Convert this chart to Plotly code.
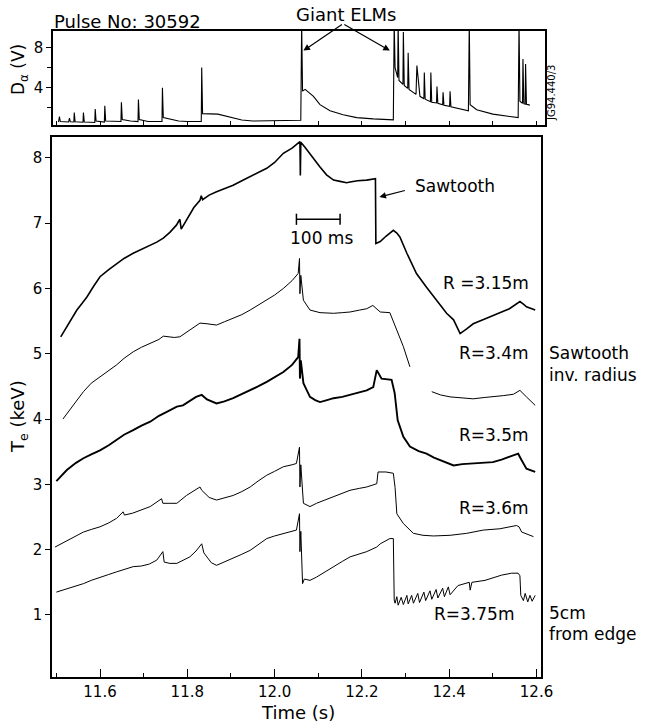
import plotly.graph_objects as go

# ---------------- data ----------------
t_315 = [11.510, 11.530, 11.547, 11.560, 11.570, 11.585, 11.600, 11.620, 11.638, 11.655, 11.676, 11.695,
         11.715, 11.730, 11.745, 11.760, 11.775, 11.783, 11.786, 11.800, 11.815, 11.829, 11.832, 11.835,
         11.850, 11.867, 11.885, 11.905, 11.925, 11.944, 11.962, 11.982, 12.000, 12.020, 12.040, 12.055,
         12.058, 12.059, 12.060, 12.070, 12.081, 12.093, 12.104, 12.119, 12.135, 12.150, 12.165, 12.173,
         12.190, 12.211, 12.225, 12.231, 12.232, 12.242, 12.255, 12.265, 12.272, 12.280, 12.287, 12.303,
         12.325, 12.348, 12.371, 12.394, 12.410, 12.425, 12.440, 12.455, 12.480, 12.500, 12.520, 12.538,
         12.562, 12.570, 12.577, 12.597]
te_315 = [5.26, 5.48, 5.67, 5.78, 5.87, 6.03, 6.18, 6.29, 6.38, 6.46, 6.54, 6.60,
          6.66, 6.71, 6.77, 6.86, 6.97, 7.06, 6.91, 7.08, 7.24, 7.35, 7.42, 7.36,
          7.43, 7.48, 7.53, 7.58, 7.65, 7.71, 7.77, 7.84, 7.93, 8.07, 8.15, 8.23,
          8.25, 7.73, 8.24, 8.16, 8.06, 7.96, 7.86, 7.74, 7.66, 7.64, 7.62, 7.63,
          7.65, 7.66, 7.67, 7.68, 6.69, 6.72, 6.80, 6.86, 6.89, 6.85, 6.79, 6.54,
          6.23, 6.02, 5.82, 5.62, 5.52, 5.31, 5.38, 5.46, 5.53, 5.59, 5.64, 5.69,
          5.80, 5.76, 5.72, 5.67]

t_34 = [11.515, 11.540, 11.562, 11.580, 11.600, 11.620, 11.638, 11.655, 11.676, 11.695, 11.715, 11.735,
        11.745, 11.753, 11.770, 11.783, 11.800, 11.814, 11.829, 11.845, 11.867, 11.885, 11.905, 11.925,
        11.944, 11.962, 11.982, 12.000, 12.020, 12.040, 12.054, 12.057, 12.058, 12.060, 12.066, 12.081,
        12.104, 12.135, 12.155, 12.173, 12.195, 12.211, 12.225, 12.232, 12.242, 12.264, 12.280, 12.295,
        12.310, 12.335, 12.360, 12.380, 12.402, 12.430, 12.455, 12.480, 12.500, 12.525, 12.547, 12.562,
        12.577, 12.597]
te_34 = [4.00, 4.22, 4.42, 4.55, 4.65, 4.74, 4.83, 4.93, 5.03, 5.10, 5.16, 5.22,
         5.27, 5.26, 5.25, 5.26, 5.34, 5.41, 5.47, 5.46, 5.44, 5.49, 5.54, 5.60,
         5.67, 5.74, 5.82, 5.90, 6.00, 6.12, 6.23, 6.46, 5.92, 6.20, 5.82, 5.67,
         5.63, 5.62, 5.63, 5.64, 5.67, 5.69, 5.74, 5.70, 5.64, 5.63, 5.36, 5.11,
         4.80, None, 4.42, 4.37, 4.34, 4.32, 4.31, 4.33, 4.34, 4.36, 4.38, 4.44,
         4.34, 4.21]

t_35 = [11.500, 11.524, 11.545, 11.562, 11.580, 11.600, 11.620, 11.638, 11.655, 11.676, 11.695, 11.715,
        11.735, 11.753, 11.776, 11.790, 11.805, 11.820, 11.833, 11.845, 11.867, 11.885, 11.905, 11.925,
        11.944, 11.962, 11.982, 12.000, 12.020, 12.040, 12.054, 12.057, 12.058, 12.060, 12.066, 12.073,
        12.081, 12.093, 12.104, 12.120, 12.135, 12.155, 12.173, 12.195, 12.211, 12.226, 12.234, 12.245,
        12.268, 12.275, 12.282, 12.295, 12.310, 12.330, 12.348, 12.365, 12.379, 12.395, 12.410, 12.430,
        12.455, 12.480, 12.500, 12.520, 12.539, 12.558, 12.565, 12.577, 12.597]
te_35 = [3.05, 3.22, 3.33, 3.40, 3.46, 3.52, 3.60, 3.68, 3.76, 3.83, 3.90, 3.96,
         4.05, 4.11, 4.19, 4.21, 4.28, 4.34, 4.37, 4.30, 4.24, 4.27, 4.32, 4.38,
         4.44, 4.50, 4.57, 4.64, 4.72, 4.83, 4.95, 5.23, 4.62, 4.90, 4.55, 4.45,
         4.34, 4.29, 4.26, 4.29, 4.32, 4.34, 4.37, 4.41, 4.44, 4.49, 4.75, 4.62,
         4.60, 4.40, 3.98, 3.73, 3.58, 3.51, 3.47, 3.41, 3.37, 3.33, 3.29, 3.31,
         3.32, 3.33, 3.34, 3.38, 3.42, 3.47, 3.38, 3.24, 3.19]

t_36 = [11.497, 11.524, 11.545, 11.562, 11.580, 11.600, 11.620, 11.638, 11.653, 11.656, 11.675, 11.692,
        11.715, 11.741, 11.744, 11.760, 11.776, 11.798, 11.815, 11.829, 11.833, 11.850, 11.867, 11.885,
        11.905, 11.925, 11.944, 11.962, 11.982, 12.000, 12.020, 12.040, 12.050, 12.057, 12.058, 12.060,
        12.066, 12.081, 12.096, 12.115, 12.135, 12.155, 12.173, 12.195, 12.211, 12.234, 12.237, 12.255,
        12.272, 12.276, 12.280, 12.295, 12.318, 12.340, 12.364, 12.402, 12.440, 12.478, 12.516, 12.554,
        12.560, 12.566, 12.580, 12.593]
te_36 = [2.04, 2.14, 2.22, 2.27, 2.31, 2.35, 2.41, 2.48, 2.58, 2.53, 2.56, 2.60,
         2.66, 2.78, 2.71, 2.71, 2.71, 2.83, 2.90, 2.96, 2.91, 2.80, 2.76, 2.79,
         2.83, 2.89, 2.96, 3.05, 3.14, 3.20, 3.27, 3.30, 3.32, 3.57, 2.96, 3.30,
         2.71, 2.66, 2.71, 2.76, 2.81, 2.86, 2.91, 2.94, 2.96, 3.01, 3.19, 3.19,
         3.17, 2.95, 2.55, 2.40, 2.25, 2.22, 2.21, 2.22, 2.25, 2.30, 2.32, 2.37,
         2.35, 2.27, 2.23, 2.20]

t_375 = [11.500, 11.520, 11.539, 11.562, 11.580, 11.600, 11.620, 11.638, 11.655, 11.676, 11.695, 11.713,
         11.730, 11.744, 11.747, 11.760, 11.776, 11.790, 11.806, 11.820, 11.833, 11.838, 11.844, 11.855,
         11.867, 11.885, 11.905, 11.925, 11.944, 11.962, 11.982, 12.000, 12.020, 12.040, 12.050, 12.057,
         12.058, 12.060, 12.064, 12.068, 12.081, 12.096, 12.115, 12.135, 12.155, 12.173, 12.195, 12.211,
         12.234, 12.242, 12.264, 12.272, 12.274, 12.276, 12.280, 12.283, 12.290, 12.295, 12.303, 12.306,
         12.314, 12.318, 12.328, 12.332, 12.342, 12.346, 12.356, 12.360, 12.370, 12.374, 12.385, 12.389,
         12.398, 12.402, 12.420, 12.436, 12.446, 12.448, 12.452, 12.482, 12.520, 12.543, 12.558, 12.562,
         12.564, 12.570, 12.574, 12.580, 12.585, 12.590, 12.597]
te_375 = [1.35, 1.39, 1.43, 1.48, 1.53, 1.58, 1.62, 1.66, 1.70, 1.74, 1.75, 1.78,
          1.84, 1.97, 1.81, 1.79, 1.79, 1.84, 1.89, 1.98, 2.09, 1.95, 1.89, 1.80,
          1.76, 1.81, 1.87, 1.93, 1.99, 2.08, 2.17, 2.21, 2.25, 2.28, 2.30, 2.55,
          1.97, 2.28, 1.48, 1.55, 1.53, 1.58, 1.66, 1.74, 1.82, 1.89, 1.94, 1.97,
          2.04, 2.09, 2.17, 2.17, 1.23, 1.18, 1.28, 1.15, 1.27, 1.16, 1.30, 1.17,
          1.30, 1.18, 1.33, 1.19, 1.35, 1.22, 1.37, 1.24, 1.39, 1.26, 1.41, 1.28,
          1.43, 1.31, 1.45, 1.48, 1.50, 1.38, 1.50, 1.53, 1.61, 1.64, 1.64, 1.60,
          1.30, 1.22, 1.33, 1.20, 1.30, 1.21, 1.30]

# D-alpha signal (V); 10.5 = off-scale spikes
t_da = [11.505, 11.507, 11.509, 11.528, 11.530, 11.532, 11.540, 11.541, 11.543, 11.561, 11.562, 11.564,
        11.588, 11.589, 11.591, 11.610, 11.611, 11.613, 11.648, 11.649, 11.651, 11.670, 11.687, 11.688,
        11.690, 11.710, 11.742, 11.743, 11.745, 11.760, 11.780, 11.800, 11.832, 11.833, 11.835, 11.870,
        11.885, 11.905, 11.925, 11.950, 12.000, 12.060, 12.062, 12.064, 12.070, 12.080, 12.089, 12.104,
        12.127, 12.157, 12.188, 12.226, 12.272, 12.274, 12.276, 12.282, 12.283, 12.285, 12.294, 12.295,
        12.297, 12.305, 12.306, 12.308, 12.318, 12.324, 12.326, 12.333, 12.342, 12.343, 12.345, 12.357,
        12.358, 12.360, 12.371, 12.372, 12.374, 12.385, 12.386, 12.388, 12.401, 12.402, 12.404, 12.425,
        12.444, 12.446, 12.448, 12.463, 12.500, 12.539, 12.558, 12.560, 12.562, 12.568, 12.569, 12.571,
        12.574, 12.575, 12.577, 12.581, 12.585]
da = [0.50, 1.06, 0.55, 0.50, 0.90, 0.52, 0.50, 1.47, 0.52, 0.48, 1.47, 0.50,
      0.45, 1.82, 0.60, 0.50, 2.15, 0.60, 0.55, 2.49, 0.75, 0.60, 0.55, 2.77,
      0.75, 0.55, 0.55, 3.97, 0.95, 0.80, 0.60, 0.55, 0.55, 6.02, 1.35, 1.30,
      1.15, 0.90, 0.70, 0.60, 0.62, 0.68, 10.5, 3.62, 3.80, 3.40, 3.10, 2.26,
      1.64, 1.23, 0.95, 0.82, 0.72, 10.5, 6.00, 5.00, 10.5, 4.70, 4.30, 9.60,
      4.20, 3.90, 7.50, 3.80, 3.50, 3.30, 6.20, 3.10, 2.85, 5.50, 2.80, 2.55,
      5.50, 2.50, 2.43, 4.10, 2.40, 2.25, 3.50, 2.20, 2.08, 3.60, 2.05, 1.85,
      1.64, 10.5, 2.26, 1.74, 1.30, 1.06, 0.95, 10.5, 2.60, 2.40, 6.87, 2.35,
      2.30, 6.36, 2.30, 2.26, 2.20]

scalebar_t = [12.05, 12.15]
scalebar_te = [7.06, 7.06]

x_ticks = [11.6, 11.8, 12.0, 12.2, 12.4, 12.6]

# ---------------- figure ----------------
W, H = 645, 724
FONT = "DejaVu Sans"


def px(x):
    return x / W


def py(y):
    return 1 - y / H


fig = go.Figure()

line_specs = [
    (t_315, te_315, 1.6),
    (t_34, te_34, 1.0),
    (t_35, te_35, 1.9),
    (t_36, te_36, 1.0),
    (t_375, te_375, 1.0),
]
for tt, vv, w in line_specs:
    fig.add_trace(go.Scatter(x=tt, y=vv, mode="lines", line=dict(color="black", width=w),
                             connectgaps=False, showlegend=False, xaxis="x", yaxis="y"))

fig.add_trace(go.Scatter(x=t_da, y=da, mode="lines", line=dict(color="black", width=1.1),
                         showlegend=False, xaxis="x2", yaxis="y2"))

# 100 ms scale bar
fig.add_trace(go.Scatter(x=scalebar_t, y=scalebar_te, mode="lines+markers",
                         line=dict(color="black", width=1.3),
                         marker=dict(symbol="line-ns", size=8, line=dict(color="black", width=1.5)),
                         showlegend=False, xaxis="x", yaxis="y"))

axis_common = dict(showline=True, linecolor="black", linewidth=1.5, mirror=True,
                   showgrid=False, zeroline=False, automargin=False,
                   tickcolor="black", tickwidth=1.3,
                   tickfont=dict(family=FONT, size=15, color="black"))

fig.update_layout(
    width=W, height=H,
    margin=dict(l=0, r=0, t=0, b=0),
    paper_bgcolor="white", plot_bgcolor="white",
    font=dict(family=FONT, color="black"),
    xaxis=dict(domain=[px(52), px(541)], range=[11.49, 12.6103], anchor="y",
               tickvals=x_ticks, ticktext=[f"{v:.1f}" for v in x_ticks],
               ticks="inside", ticklen=8,
               minor=dict(ticks="inside", ticklen=4, dtick=0.1, tick0=11.5,
                          tickcolor="black", tickwidth=1.2),
               **axis_common),
    yaxis=dict(domain=[py(677), py(137)], range=[0.05, 8.32], anchor="x",
               dtick=1, tick0=0, ticks="outside", ticklen=5, **axis_common),
    xaxis2=dict(domain=[px(53), px(545)], range=[11.4923, 12.6195], anchor="y2",
                showticklabels=False, dtick=0.1, tick0=11.5, ticks="inside", ticklen=4,
                **axis_common),
    yaxis2=dict(domain=[py(125), py(31)], range=[0.2, 9.7], anchor="x2",
                dtick=4, tick0=0, ticks="outside", ticklen=5,
                minor=dict(ticks="outside", ticklen=4, dtick=2, tick0=0,
                           tickcolor="black", tickwidth=1.2),
                **axis_common),
)

ann = []


def label(text, x, y, size=17, xanchor="center", yanchor="middle", angle=0):
    ann.append(dict(text=text, x=px(x), y=py(y), xref="paper", yref="paper",
                    xanchor=xanchor, yanchor=yanchor, showarrow=False, textangle=angle,
                    font=dict(family=FONT, size=size, color="black")))


label("Pulse No: 30592", 127, 21, size=18)
label("Giant ELMs", 346, 14, size=18)
label("D<sub>α</sub> (V)", 19, 70, size=17, angle=-90)
label("T<sub>e</sub> (keV)", 19, 417, size=18, angle=-90)
label("Time (s)", 298, 712, size=18)
label("JG94.440/3", 552, 93, size=10, angle=-90)
label("Sawtooth", 413, 186, xanchor="left")
label("100 ms", 321, 238)
label("R =3.15m", 531, 283, xanchor="right")
label("R=3.4m", 531, 353, xanchor="right")
label("Sawtooth", 547, 353, xanchor="left")
label("inv. radius", 547, 375, xanchor="left")
label("R=3.5m", 531, 435, xanchor="right")
label("R=3.6m", 531, 508, xanchor="right")
label("R=3.75m", 516, 614, xanchor="right")
label("5cm", 547, 613, xanchor="left")
label("from edge", 547, 634, xanchor="left")

# arrows
arrow_common = dict(text="", showarrow=True, arrowhead=2, arrowsize=1.1, arrowwidth=1.2,
                    arrowcolor="black", axref="pixel", ayref="pixel")
ann.append(dict(x=12.066, y=7.72, xref="x2", yref="y2", ax=40, ay=-27, **arrow_common))
ann.append(dict(x=12.264, y=7.72, xref="x2", yref="y2", ax=-47, ay=-27, **arrow_common))
ann.append(dict(x=12.24, y=7.40, xref="x", yref="y", ax=27, ay=-7, **arrow_common))

fig.update_layout(annotations=ann)

# underline of the pulse label
fig.add_shape(type="line", xref="paper", yref="paper", x0=px(53), x1=px(201), y0=py(29.5), y1=py(29.5),
              line=dict(color="black", width=1.2))

fig.write_html("out.html", config={"displayModeBar": False},
               post_script="document.body.style.margin='0';document.body.style.overflow='hidden';")
